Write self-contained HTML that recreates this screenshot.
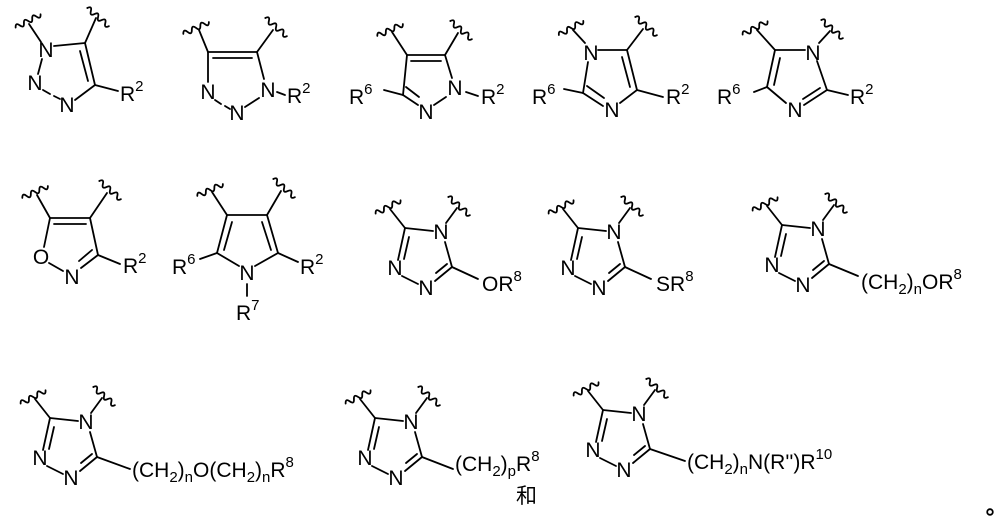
<!DOCTYPE html>
<html><head><meta charset="utf-8"><style>
html,body{margin:0;padding:0;background:#fff;width:1000px;height:521px;overflow:hidden}
svg{display:block}
text{font-family:"Liberation Sans","Noto Sans CJK SC",sans-serif;font-size:21px;fill:#000}
.s{font-size:15px}
</style></head><body>
<svg width="1000" height="521" viewBox="0 0 1000 521" xmlns="http://www.w3.org/2000/svg">
<g stroke="#000" stroke-width="1.8" fill="none" stroke-linecap="round">
<!-- M1 -->
<line x1="41" y1="42" x2="29" y2="24"/>
<path transform="translate(28,21) rotate(-28)" d="M-14,0 q2.3,-5 4.7,0 t4.7,0 t4.7,0 t4.7,0 t4.7,0 t4.7,0"/>
<line x1="85" y1="43" x2="96" y2="18"/>
<path transform="translate(98,17) rotate(40)" d="M-14,0 q2.3,-5 4.7,0 t4.7,0 t4.7,0 t4.7,0 t4.7,0 t4.7,0"/>
<line x1="54" y1="46" x2="85" y2="43"/>
<line x1="85" y1="43" x2="95" y2="85"/>
<line x1="80" y1="51" x2="88" y2="81"/>
<line x1="95" y1="85" x2="75" y2="100"/>
<line x1="95" y1="85" x2="118" y2="91"/>
<line x1="43" y1="90" x2="50" y2="94"/>
<line x1="54" y1="96" x2="60" y2="99"/>
<line x1="38" y1="74" x2="42" y2="59"/>
<!-- M2 -->
<line x1="208" y1="52" x2="257" y2="52"/>
<line x1="213" y1="58" x2="252" y2="58"/>
<line x1="208" y1="52" x2="199" y2="30"/>
<path transform="translate(196,28) rotate(-25)" d="M-14,0 q2.3,-5 4.7,0 t4.7,0 t4.7,0 t4.7,0 t4.7,0 t4.7,0"/>
<line x1="257" y1="52" x2="273" y2="30"/>
<path transform="translate(276,27) rotate(40)" d="M-14,0 q2.3,-5 4.7,0 t4.7,0 t4.7,0 t4.7,0 t4.7,0 t4.7,0"/>
<line x1="257" y1="52" x2="264" y2="79"/>
<line x1="208" y1="52" x2="208" y2="82"/>
<line x1="215" y1="100" x2="221" y2="104"/>
<line x1="225" y1="106" x2="230" y2="109"/>
<line x1="245" y1="107" x2="259" y2="98"/>
<line x1="277" y1="92" x2="285" y2="95"/>
<!-- M3 -->
<line x1="407" y1="55" x2="445" y2="55"/>
<line x1="411" y1="61" x2="441" y2="61"/>
<line x1="407" y1="55" x2="392" y2="32"/>
<path transform="translate(390,30) rotate(-25)" d="M-14,0 q2.3,-5 4.7,0 t4.7,0 t4.7,0 t4.7,0 t4.7,0 t4.7,0"/>
<line x1="445" y1="55" x2="458" y2="33"/>
<path transform="translate(461,30) rotate(40)" d="M-14,0 q2.3,-5 4.7,0 t4.7,0 t4.7,0 t4.7,0 t4.7,0 t4.7,0"/>
<line x1="445" y1="55" x2="452" y2="78"/>
<line x1="407" y1="55" x2="403" y2="95"/>
<line x1="403" y1="95" x2="418" y2="105"/>
<line x1="406" y1="87" x2="419" y2="97"/>
<line x1="434" y1="105" x2="446" y2="97"/>
<line x1="466" y1="92" x2="478" y2="96"/>
<line x1="403" y1="95" x2="384" y2="90"/>
<!-- M4 -->
<line x1="585" y1="43" x2="573" y2="30"/>
<path transform="translate(571,28) rotate(-30)" d="M-14,0 q2.3,-5 4.7,0 t4.7,0 t4.7,0 t4.7,0 t4.7,0 t4.7,0"/>
<line x1="627" y1="50" x2="643" y2="29"/>
<path transform="translate(646,26) rotate(40)" d="M-14,0 q2.3,-5 4.7,0 t4.7,0 t4.7,0 t4.7,0 t4.7,0 t4.7,0"/>
<line x1="598" y1="50" x2="627" y2="50"/>
<line x1="627" y1="50" x2="637" y2="90"/>
<line x1="622" y1="57" x2="630" y2="87"/>
<line x1="637" y1="90" x2="620" y2="103"/>
<line x1="637" y1="90" x2="663" y2="97"/>
<line x1="583" y1="93" x2="603" y2="106"/>
<line x1="587" y1="86" x2="604" y2="98"/>
<line x1="583" y1="93" x2="588" y2="62"/>
<line x1="583" y1="93" x2="564" y2="89"/>
<!-- M5 -->
<line x1="775" y1="50" x2="757" y2="30"/>
<path transform="translate(755,28) rotate(-28)" d="M-14,0 q2.3,-5 4.7,0 t4.7,0 t4.7,0 t4.7,0 t4.7,0 t4.7,0"/>
<line x1="819" y1="43" x2="830" y2="31"/>
<path transform="translate(832,29) rotate(40)" d="M-14,0 q2.3,-5 4.7,0 t4.7,0 t4.7,0 t4.7,0 t4.7,0 t4.7,0"/>
<line x1="775" y1="50" x2="805" y2="50"/>
<line x1="775" y1="50" x2="767" y2="87"/>
<line x1="780" y1="58" x2="774" y2="85"/>
<line x1="767" y1="87" x2="786" y2="103"/>
<line x1="767" y1="87" x2="754" y2="92"/>
<line x1="817" y1="61" x2="827" y2="90"/>
<line x1="827" y1="90" x2="804" y2="105"/>
<line x1="820" y1="88" x2="803" y2="99"/>
<line x1="827" y1="90" x2="848" y2="95"/>
<!-- M6 isoxazole -->
<line x1="50" y1="218" x2="90" y2="218"/>
<line x1="54" y1="224" x2="86" y2="224"/>
<line x1="50" y1="218" x2="37" y2="195"/>
<path transform="translate(35,192) rotate(-25)" d="M-14,0 q2.3,-5 4.7,0 t4.7,0 t4.7,0 t4.7,0 t4.7,0 t4.7,0"/>
<line x1="90" y1="218" x2="107" y2="193"/>
<path transform="translate(110,190) rotate(40)" d="M-14,0 q2.3,-5 4.7,0 t4.7,0 t4.7,0 t4.7,0 t4.7,0 t4.7,0"/>
<line x1="90" y1="218" x2="98" y2="255"/>
<line x1="98" y1="255" x2="81" y2="268"/>
<line x1="92" y1="250" x2="79" y2="261"/>
<line x1="98" y1="255" x2="120" y2="264"/>
<line x1="49" y1="263" x2="63" y2="271"/>
<line x1="50" y1="218" x2="44" y2="247"/>
<!-- M7 pyrrole -->
<line x1="227" y1="215" x2="267" y2="215"/>
<line x1="227" y1="215" x2="212" y2="192"/>
<path transform="translate(210,190) rotate(-25)" d="M-14,0 q2.3,-5 4.7,0 t4.7,0 t4.7,0 t4.7,0 t4.7,0 t4.7,0"/>
<line x1="267" y1="215" x2="281" y2="191"/>
<path transform="translate(284,188) rotate(40)" d="M-14,0 q2.3,-5 4.7,0 t4.7,0 t4.7,0 t4.7,0 t4.7,0 t4.7,0"/>
<line x1="227" y1="215" x2="217" y2="253"/>
<line x1="232" y1="222" x2="224" y2="250"/>
<line x1="267" y1="215" x2="278" y2="253"/>
<line x1="262" y1="222" x2="271" y2="250"/>
<line x1="217" y1="253" x2="239" y2="266"/>
<line x1="278" y1="253" x2="255" y2="266"/>
<line x1="217" y1="253" x2="200" y2="259"/>
<line x1="278" y1="253" x2="298" y2="262"/>
<line x1="247" y1="284" x2="247" y2="296"/>
</g>

<!-- triazoles -->
<g stroke="#000" stroke-width="1.8" fill="none" stroke-linecap="round">
<g transform="translate(405,228)">
<line x1="0" y1="0" x2="28" y2="3"/><line x1="40" y1="14" x2="47" y2="39"/><line x1="47" y1="39" x2="30" y2="53"/><line x1="42" y1="36" x2="31" y2="45"/><line x1="-3" y1="48" x2="13" y2="56"/><line x1="-7" y1="32" x2="0" y2="0"/><line x1="-1" y1="31" x2="4" y2="9"/><line x1="0" y1="0" x2="-15" y2="-19"/><path transform="translate(-17,-21) rotate(-28)" d="M-14,0 q2.3,-5 4.7,0 t4.7,0 t4.7,0 t4.7,0 t4.7,0 t4.7,0"/><line x1="41" y1="-5" x2="52" y2="-20"/><path transform="translate(54,-22) rotate(40)" d="M-14,0 q2.3,-5 4.7,0 t4.7,0 t4.7,0 t4.7,0 t4.7,0 t4.7,0"/><line x1="47" y1="39" x2="73" y2="51"/></g>
<g transform="translate(578,228)">
<line x1="0" y1="0" x2="28" y2="3"/><line x1="40" y1="14" x2="47" y2="39"/><line x1="47" y1="39" x2="30" y2="53"/><line x1="42" y1="36" x2="31" y2="45"/><line x1="-3" y1="48" x2="13" y2="56"/><line x1="-7" y1="32" x2="0" y2="0"/><line x1="-1" y1="31" x2="4" y2="9"/><line x1="0" y1="0" x2="-15" y2="-19"/><path transform="translate(-17,-21) rotate(-28)" d="M-14,0 q2.3,-5 4.7,0 t4.7,0 t4.7,0 t4.7,0 t4.7,0 t4.7,0"/><line x1="41" y1="-5" x2="52" y2="-20"/><path transform="translate(54,-22) rotate(40)" d="M-14,0 q2.3,-5 4.7,0 t4.7,0 t4.7,0 t4.7,0 t4.7,0 t4.7,0"/><line x1="47" y1="39" x2="73" y2="51"/></g>
<g transform="translate(782,225)">
<line x1="0" y1="0" x2="28" y2="3"/><line x1="40" y1="14" x2="47" y2="39"/><line x1="47" y1="39" x2="30" y2="53"/><line x1="42" y1="36" x2="31" y2="45"/><line x1="-3" y1="48" x2="13" y2="56"/><line x1="-7" y1="32" x2="0" y2="0"/><line x1="-1" y1="31" x2="4" y2="9"/><line x1="0" y1="0" x2="-15" y2="-19"/><path transform="translate(-17,-21) rotate(-28)" d="M-14,0 q2.3,-5 4.7,0 t4.7,0 t4.7,0 t4.7,0 t4.7,0 t4.7,0"/><line x1="41" y1="-5" x2="52" y2="-20"/><path transform="translate(54,-22) rotate(40)" d="M-14,0 q2.3,-5 4.7,0 t4.7,0 t4.7,0 t4.7,0 t4.7,0 t4.7,0"/><line x1="47" y1="39" x2="76" y2="51"/></g>
<g transform="translate(50,418)">
<line x1="0" y1="0" x2="28" y2="3"/><line x1="40" y1="14" x2="47" y2="39"/><line x1="47" y1="39" x2="30" y2="53"/><line x1="42" y1="36" x2="31" y2="45"/><line x1="-3" y1="48" x2="13" y2="56"/><line x1="-7" y1="32" x2="0" y2="0"/><line x1="-1" y1="31" x2="4" y2="9"/><line x1="0" y1="0" x2="-15" y2="-19"/><path transform="translate(-17,-21) rotate(-28)" d="M-14,0 q2.3,-5 4.7,0 t4.7,0 t4.7,0 t4.7,0 t4.7,0 t4.7,0"/><line x1="41" y1="-5" x2="52" y2="-20"/><path transform="translate(54,-22) rotate(40)" d="M-14,0 q2.3,-5 4.7,0 t4.7,0 t4.7,0 t4.7,0 t4.7,0 t4.7,0"/><line x1="47" y1="39" x2="80" y2="51"/></g>
<g transform="translate(375,418)">
<line x1="0" y1="0" x2="28" y2="3"/><line x1="40" y1="14" x2="47" y2="39"/><line x1="47" y1="39" x2="30" y2="53"/><line x1="42" y1="36" x2="31" y2="45"/><line x1="-3" y1="48" x2="13" y2="56"/><line x1="-7" y1="32" x2="0" y2="0"/><line x1="-1" y1="31" x2="4" y2="9"/><line x1="0" y1="0" x2="-15" y2="-19"/><path transform="translate(-17,-21) rotate(-28)" d="M-14,0 q2.3,-5 4.7,0 t4.7,0 t4.7,0 t4.7,0 t4.7,0 t4.7,0"/><line x1="41" y1="-5" x2="52" y2="-20"/><path transform="translate(54,-22) rotate(40)" d="M-14,0 q2.3,-5 4.7,0 t4.7,0 t4.7,0 t4.7,0 t4.7,0 t4.7,0"/><line x1="47" y1="39" x2="78" y2="51"/></g>
<g transform="translate(603,410)">
<line x1="0" y1="0" x2="28" y2="3"/><line x1="40" y1="14" x2="47" y2="39"/><line x1="47" y1="39" x2="30" y2="53"/><line x1="42" y1="36" x2="31" y2="45"/><line x1="-3" y1="48" x2="13" y2="56"/><line x1="-7" y1="32" x2="0" y2="0"/><line x1="-1" y1="31" x2="4" y2="9"/><line x1="0" y1="0" x2="-15" y2="-19"/><path transform="translate(-17,-21) rotate(-28)" d="M-14,0 q2.3,-5 4.7,0 t4.7,0 t4.7,0 t4.7,0 t4.7,0 t4.7,0"/><line x1="41" y1="-5" x2="52" y2="-20"/><path transform="translate(54,-22) rotate(40)" d="M-14,0 q2.3,-5 4.7,0 t4.7,0 t4.7,0 t4.7,0 t4.7,0 t4.7,0"/><line x1="47" y1="39" x2="82" y2="51"/></g>
</g>

<g text-anchor="middle">
<text x="46" y="57">N</text><text x="35" y="90">N</text><text x="67" y="112">N</text>
<text x="208" y="99">N</text><text x="237" y="120">N</text><text x="268" y="97">N</text>
<text x="455" y="95">N</text><text x="426" y="119">N</text>
<text x="591" y="60">N</text><text x="612" y="117">N</text>
<text x="813" y="60">N</text><text x="795" y="117">N</text>
<text x="41" y="264">O</text><text x="72" y="284">N</text>
<text x="247" y="280">N</text>
</g>
<text x="120" y="101">R<tspan class="s" dy="-10">2</tspan></text>
<text x="287" y="103">R<tspan class="s" dy="-10">2</tspan></text>
<text x="349" y="104">R<tspan class="s" dy="-10">6</tspan></text>
<text x="481" y="104">R<tspan class="s" dy="-10">2</tspan></text>
<text x="532" y="104">R<tspan class="s" dy="-10">6</tspan></text>
<text x="666" y="104">R<tspan class="s" dy="-10">2</tspan></text>
<text x="717" y="104">R<tspan class="s" dy="-10">6</tspan></text>
<text x="850" y="104">R<tspan class="s" dy="-10">2</tspan></text>
<text x="123" y="273">R<tspan class="s" dy="-10">2</tspan></text>
<text x="172" y="274">R<tspan class="s" dy="-10">6</tspan></text>
<text x="300" y="274">R<tspan class="s" dy="-10">2</tspan></text>
<text x="236" y="320">R<tspan class="s" dy="-10">7</tspan></text>

<g text-anchor="middle">
<text x="441" y="239">N</text><text x="426" y="295">N</text><text x="395" y="275">N</text>
<text x="614" y="239">N</text><text x="599" y="295">N</text><text x="568" y="275">N</text>
<text x="818" y="236">N</text><text x="803" y="292">N</text><text x="772" y="272">N</text>
<text x="86" y="429">N</text><text x="71" y="485">N</text><text x="40" y="465">N</text>
<text x="411" y="429">N</text><text x="396" y="485">N</text><text x="365" y="465">N</text>
<text x="639" y="421">N</text><text x="624" y="477">N</text><text x="593" y="457">N</text>
</g>
<text x="482" y="291">OR<tspan class="s" dy="-10">8</tspan></text>
<text x="656" y="291">SR<tspan class="s" dy="-10">8</tspan></text>
<text x="861" y="289">(CH<tspan class="s" dy="5">2</tspan><tspan dy="-5">)</tspan><tspan class="s" dy="5">n</tspan><tspan dy="-5">OR</tspan><tspan class="s" dy="-10">8</tspan></text>
<text x="132" y="477">(CH<tspan class="s" dy="5">2</tspan><tspan dy="-5">)</tspan><tspan class="s" dy="5">n</tspan><tspan dy="-5">O(CH</tspan><tspan class="s" dy="5">2</tspan><tspan dy="-5">)</tspan><tspan class="s" dy="5">n</tspan><tspan dy="-5">R</tspan><tspan class="s" dy="-10">8</tspan></text>
<text x="455" y="471">(CH<tspan class="s" dy="5">2</tspan><tspan dy="-5">)</tspan><tspan class="s" dy="5">p</tspan><tspan dy="-5">R</tspan><tspan class="s" dy="-10">8</tspan></text>
<text x="687" y="469">(CH<tspan class="s" dy="5">2</tspan><tspan dy="-5">)</tspan><tspan class="s" dy="5">n</tspan><tspan dy="-5">N(R'')R</tspan><tspan class="s" dy="-10">10</tspan></text>
<text x="516" y="503" style="font-size:21px">和</text>
<circle cx="990" cy="512" r="2.8" fill="none" stroke="#000" stroke-width="1.8"/>
</svg>
</body></html>
